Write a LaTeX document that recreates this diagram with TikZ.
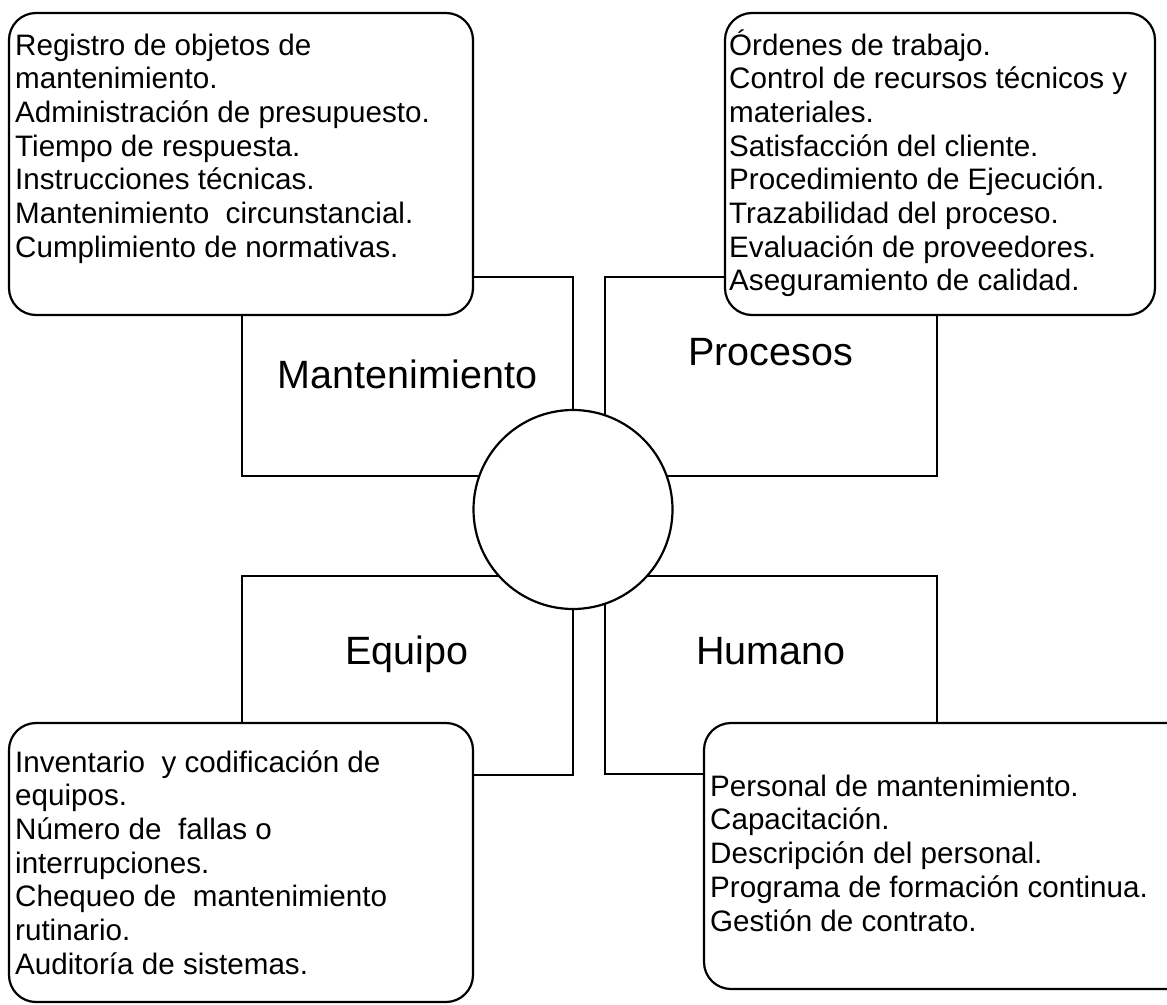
\documentclass[tikz,border=0pt]{standalone}
\usepackage{fontspec}
\setmainfont{Liberation Sans}
\begin{document}
\begin{tikzpicture}[x=1pt,y=-1pt,
  line/.style={draw=black,line width=2.2pt},
  infobox/.style={draw=black,line width=2.2pt,fill=white,rounded corners=27pt},
  hub/.style={draw=black,line width=2.2pt,fill=white,circle,inner sep=0pt,minimum size=199pt},
  body/.style={inner sep=0pt,anchor=base west},
  title/.style={inner sep=0pt,anchor=base,font=\fontsize{39.5}{45}\selectfont}]
\path[use as bounding box] (0,0) rectangle (1167,1004);
\begin{scope}
\clip (0,0) rectangle (1167,1004);
% branch rectangles
\draw[line] (242,277) rectangle (573,476);
\draw[line] (605,277) rectangle (937,476);
\draw[line] (242,576) rectangle (573,775);
\draw[line] (605,576) rectangle (937,774);
% hub
\node[hub] (hub) at (573,509.5) {};
% info boxes
\draw[infobox] (9,13) rectangle (473,315);
\draw[infobox] (725,13) rectangle (1155,315);
\draw[infobox] (9,723) rectangle (473,1002);
\draw[infobox] (704,723) rectangle (1195,989);
\end{scope}
% titles
\node[title] (tman) at (407.5,388) {Mantenimiento};
\node[title] (tpro) at (770.5,365) {Procesos};
\node[title] (tequ) at (407,664) {Equipo};
\node[title] (thum) at (771,664) {Humano};
% box texts
\node[body] (txtl) at (15,55) {\fontsize{29.6}{33.7}\selectfont\begin{tabular}[t]{@{}l@{}}
Registro de objetos de\\
mantenimiento.\\
Administración de presupuesto.\\
Tiempo de respuesta.\\
Instrucciones técnicas.\\
Mantenimiento\ \ circunstancial.\\
Cumplimiento de normativas.
\end{tabular}};
\node[body] (txtr) at (729,55) {\fontsize{29.6}{33.7}\selectfont\begin{tabular}[t]{@{}l@{}}
Órdenes de trabajo.\\
Control de recursos técnicos y\\
materiales.\\
Satisfacción del cliente.\\
Procedimiento de Ejecución.\\
Trazabilidad del proceso.\\
Evaluación de proveedores.\\
Aseguramiento de calidad.
\end{tabular}};
\node[body] (txbl) at (15,772) {\fontsize{29.6}{33.7}\selectfont\begin{tabular}[t]{@{}l@{}}
Inventario\ \ y codificación de\\
equipos.\\
Número de\ \ fallas o\\
interrupciones.\\
Chequeo de\ \ mantenimiento\\
rutinario.\\
Auditoría de sistemas.
\end{tabular}};
\node[body] (txbr) at (710,796) {\fontsize{29.6}{33.9}\selectfont\begin{tabular}[t]{@{}l@{}}
Personal de mantenimiento.\\
Capacitación.\\
Descripción del personal.\\
Programa de formación continua.\\
Gestión de contrato.
\end{tabular}};
\end{tikzpicture}
\end{document}
